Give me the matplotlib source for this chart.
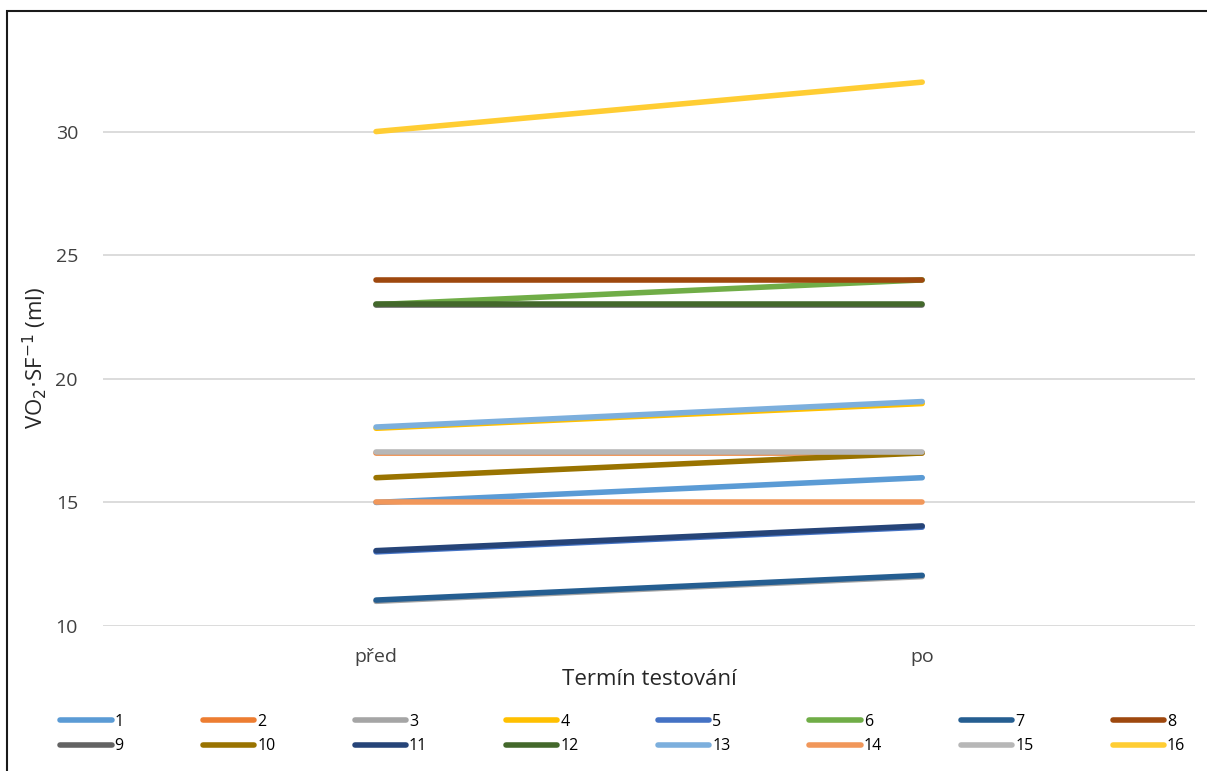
import numpy as np
import matplotlib.pyplot as plt
from matplotlib.patches import Rectangle

plt.rcParams['font.family'] = ['Open Sans', 'DejaVu Sans']

# two measurement terms
terms = ['před', 'po']

# VO2/SF per subject, before and after
subjects = [str(i) for i in range(1, 17)]
before = [15, 17, 11, 18, 13, 23, 11.05, 24, 23, 16, 13.05, 23.02, 18.05, 15, 17.05, 30]
after = [16, 17, 12, 19, 14, 24, 12.05, 24, 23, 17, 14.05, 23.02, 19.08, 15, 17.05, 32]
colors = ['#5B9BD5', '#ED7D31', '#A5A5A5', '#FFC000', '#4472C4', '#70AD47',
          '#255E91', '#9E480E', '#636363', '#997300', '#264478', '#43682B',
          '#7CAFDD', '#F1975A', '#B7B7B7', '#FFCD33']

fig = plt.figure(figsize=(12.07, 7.71), dpi=100)
ax = fig.add_axes([0.0853, 0.188, 0.905, 0.76])

x = np.arange(len(terms))
handles = []
for i in range(len(subjects)):
    h, = ax.plot(x, [before[i], after[i]], color=colors[i], lw=4.0,
                 solid_capstyle='round', label=subjects[i], zorder=3 + i * 0.01)
    handles.append(h)

ax.set_xlim(-0.5, 1.5)
ax.set_ylim(10, 33.7)
ax.set_yticks([10, 15, 20, 25, 30])
ax.set_xticks(x)
ax.set_xticklabels(terms)
ax.grid(axis='y', color='#D9D9D9', lw=1.3)
ax.set_axisbelow(True)
for s in ax.spines.values():
    s.set_visible(False)
ax.tick_params(axis='both', length=0, labelsize=14, colors='#404040')
ax.tick_params(axis='y', pad=18)
ax.tick_params(axis='x', pad=16)
ax.set_xlabel('Termín testování', fontsize=16, color='#262626', labelpad=2)
ax.set_ylabel('VO$_2$$\\cdot$SF$^{-1}$ (ml)', fontsize=16, color='#262626')
ax.yaxis.set_label_coords(-0.049, 0.457)

# legend filled row by row: 1-8 on top, 9-16 below
order = []
for c in range(8):
    order += [c, c + 8]
fig.legend([handles[k] for k in order], [subjects[k] for k in order],
           ncol=8, loc='center', bbox_to_anchor=(0.516, 0.048), frameon=False,
           fontsize=11.5, handlelength=3.2, handletextpad=0.2, columnspacing=4.95,
           labelspacing=0.55)

# frame around the chart
fig.patches.append(Rectangle((7 / 1207, -0.05), 1.1, 1 - 11 / 771 + 0.05,
                             transform=fig.transFigure, fill=False,
                             edgecolor='#1a1a1a', lw=1.5))

fig.savefig('out.png', dpi=100)
